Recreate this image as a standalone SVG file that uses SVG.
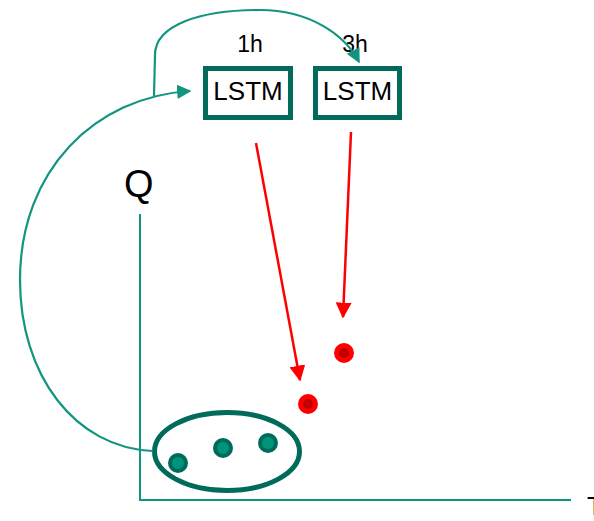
<svg xmlns="http://www.w3.org/2000/svg" width="594" height="521" viewBox="0 0 594 521">
  <defs>
    <style>
      text { font-family: "Liberation Sans", Arial, sans-serif; fill: #000; }
      .box { fill: #fff; stroke: #006b5a; stroke-width: 5; }
      .flow { fill: none; stroke: #12957f; stroke-width: 2.2; }
      .axis { fill: none; stroke: #12957f; stroke-width: 2; }
      .pred { fill: none; stroke: #ff0000; stroke-width: 2.5; }
      .obs { fill: #009478; stroke: #006b5a; stroke-width: 4; }
      .est { fill: #c00000; stroke: #ff0000; stroke-width: 5; }
    </style>
    <marker id="tealHead" viewBox="0 0 10 10" refX="9" refY="5" markerWidth="6.5" markerHeight="6.5" markerUnits="strokeWidth" orient="auto">
      <path d="M0,0 L10,5 L0,10 z" fill="#12957f"/>
    </marker>
    <marker id="redHead" viewBox="0 0 10 10" refX="9" refY="5" markerWidth="6.4" markerHeight="6.4" markerUnits="strokeWidth" orient="auto">
      <path d="M0,0 L10,5 L0,10 z" fill="#ff0000"/>
    </marker>
  </defs>

  <!-- axes -->
  <g id="axes">
    <path class="axis" d="M140,214 L140,500 L571,500"/>
    <text x="124" y="197" font-size="38">Q</text>
    <text x="587" y="515" font-size="26">T</text>
  </g>

  <!-- models -->
  <g id="lstm1h">
    <rect class="box" x="205.5" y="68.5" width="85" height="49"/>
    <text x="248" y="100" font-size="26" text-anchor="middle">LSTM</text>
    <text x="250" y="52" font-size="23" text-anchor="middle">1h</text>
  </g>
  <g id="lstm3h">
    <rect class="box" x="315.5" y="68.5" width="84" height="49"/>
    <text x="357.5" y="100" font-size="26" text-anchor="middle">LSTM</text>
    <text x="355" y="52" font-size="23" text-anchor="middle">3h</text>
  </g>

  <!-- observed values -->
  <g id="observations">
    <ellipse cx="227" cy="451.5" rx="72.5" ry="39" fill="none" stroke="#006b5a" stroke-width="5"/>
    <circle class="obs" cx="178" cy="463" r="8"/>
    <circle class="obs" cx="223" cy="448" r="8"/>
    <circle class="obs" cx="268" cy="443" r="8"/>
  </g>

  <!-- forecasts -->
  <g id="forecasts">
    <circle class="est" cx="308" cy="404" r="7.5"/>
    <circle class="est" cx="344" cy="353" r="7.5"/>
  </g>

  <!-- connectors -->
  <g id="connectors">
    <path class="flow" d="M153,451 C75,448 20,375 20,280 C20,170 95,97 190,91" marker-end="url(#tealHead)"/>
    <path class="flow" d="M154,96 L155,55 C155,25 200,10 260,10 C310,10 345,35 359,62" marker-end="url(#tealHead)"/>
    <path class="pred" d="M256,143 L300,380" marker-end="url(#redHead)"/>
    <path class="pred" d="M351,132 L343,317" marker-end="url(#redHead)"/>
  </g>
</svg>
